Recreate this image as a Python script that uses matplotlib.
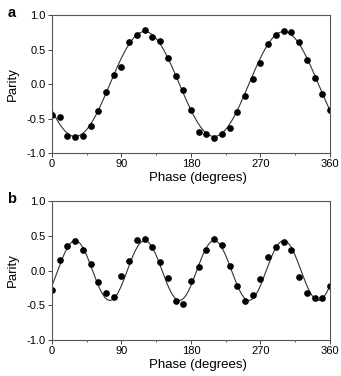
import matplotlib
matplotlib.use("Agg")
import matplotlib.pyplot as plt
import numpy as np

plt.rcParams['font.family'] = ['Liberation Sans', 'DejaVu Sans']

# ---------------------------------------------------------------------------------
# data

phase = list(range(0, 361, 10))

parity_a = [-0.45, -0.48, -0.75, -0.765, -0.755, -0.61, -0.39, -0.11, 0.13, 0.245,
            0.605, 0.715, 0.78, 0.68, 0.63, 0.375, 0.11, -0.08, -0.38, -0.70,
            -0.725, -0.785, -0.725, -0.64, -0.41, -0.18, 0.077, 0.30, 0.577, 0.716,
            0.764, 0.76, 0.605, 0.346, 0.087, -0.15, -0.375]

parity_b = [-0.28, 0.155, 0.35, 0.42, 0.29, 0.10, -0.165, -0.32, -0.385, -0.08,
            0.13, 0.44, 0.455, 0.345, 0.125, -0.105, -0.44, -0.485, -0.155, 0.05,
            0.29, 0.46, 0.37, 0.07, -0.225, -0.44, -0.35, -0.12, 0.195, 0.345,
            0.41, 0.29, -0.10, -0.32, -0.40, -0.395, -0.23]

# fitted curves: amplitude, frequency multiple, phase of maximum (degrees)
fit_a = (0.76, 2, 120)
fit_b = (0.43, 4, 30)

xticks = [0, 90, 180, 270, 360]
yticks = [-1.0, -0.5, 0.0, 0.5, 1.0]

# ---------------------------------------------------------------------------------

def panel(ax, y, fit, letter):
    amp, n, peak = fit
    th = np.linspace(0, 360, 721)
    ax.plot(th, amp * np.cos(np.radians(n * (th - peak))), '-', color='#333333', lw=0.8, zorder=1)
    ax.plot(phase, y, 'o', color='black', markersize=3.8, zorder=2)
    ax.set_xlim(0, 360)
    ax.set_ylim(-1.0, 1.0)
    ax.set_xticks(xticks)
    ax.set_xticks([45, 135, 225, 315], minor=True)
    ax.set_yticks(yticks)
    ax.set_yticklabels(['%.1f' % v for v in yticks])
    ax.tick_params(which='major', direction='out', length=3, width=0.7, labelsize=8, pad=1.5, color='#444444')
    ax.tick_params(which='minor', direction='out', length=1.5, width=0.6, color='#444444')
    for s in ax.spines.values():
        s.set_linewidth(0.8)
        s.set_color('#555555')
    ax.set_xlabel('Phase (degrees)', fontsize=9.5)
    ax.xaxis.set_label_coords(0.525, -0.14)
    ax.set_ylabel('Parity', fontsize=9.5)
    ax.yaxis.set_label_coords(-0.118, 0.5)
    ax.text(-0.13, 1.015, letter, transform=ax.transAxes, fontsize=10.5, fontweight='bold', ha='right', va='center')

fig = plt.figure(figsize=(3.41, 3.76), dpi=100)
ax1 = fig.add_axes([0.1525, 0.593, 0.8152, 0.367])
ax2 = fig.add_axes([0.1525, 0.0957, 0.8152, 0.3697])
panel(ax1, parity_a, fit_a, 'a')
panel(ax2, parity_b, fit_b, 'b')

fig.savefig('out.png', dpi=100)
